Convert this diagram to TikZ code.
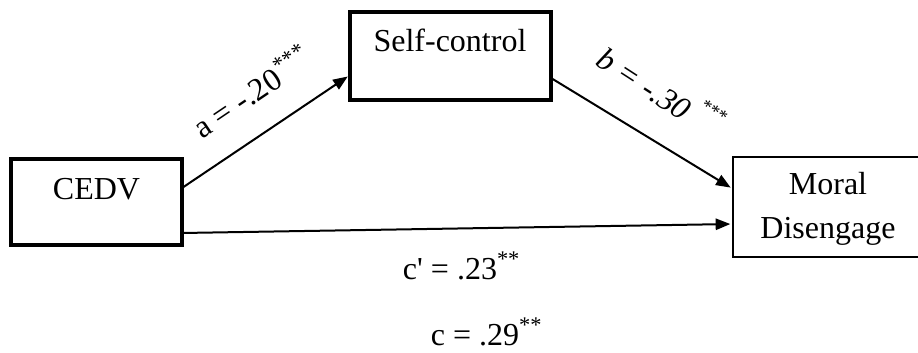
\documentclass[tikz,border=0pt]{standalone}
\usepackage{fontspec}
\setmainfont{Liberation Serif}
\usetikzlibrary{arrows.meta,calc}
\tikzset{
  thickbox/.style={draw, line width=3.2pt, minimum width=#1, inner sep=0pt, outer sep=0pt},
  openbox/.style={draw=none, inner sep=0pt, outer sep=0pt},
  openline/.style={line width=1.9pt, line cap=rect},
  lbl/.style={font=\fontsize{24}{28}\selectfont, inner sep=0pt},
  arr/.style={line width=1.5pt, -{Triangle[length=11pt,width=8.5pt]}, shorten >=2pt},
}
\begin{document}
\begin{tikzpicture}[x=0.75pt,y=-0.75pt]
\clip (0,0) rectangle (918,353);
\useasboundingbox (0,0) rectangle (918,353);
% boxes
\node[thickbox=128.25pt, minimum height=64.5pt] (cedv) at (96.5,202) {};
\node[thickbox=150.75pt, minimum height=66pt] (sc) at (450.5,56) {};
\node[openbox, minimum width=147.75pt, minimum height=75pt] (md) at (831.5,207) {};
\draw[openline] (md.north east) -- (md.north west) -- (md.south west) -- (md.south east);
% box texts
\node[lbl, anchor=base] (tcedv) at (96.5,199) {CEDV};
\node[lbl, anchor=base] (tsc) at (450,52) {Self-control};
\node[lbl, anchor=base] (tmd1) at (828,195) {Moral};
\node[lbl, anchor=base] (tmd2) at (828,238) {Disengage};
% connectors
\draw[arr] ($(cedv.east)+(0,-14)$) -- ($(sc.west)+(0,19)$);
\draw[arr] ($(sc.east)+(0,22)$) -- ($(md.west)+(0,-18)$);
\draw[arr] ($(cedv.east)+(0,31)$) -- ($(md.west)+(0,17)$);
% labels
\node[lbl, rotate=34] (la) at (236,101) {a = -.20\rlap{\kern1pt\textsuperscript{***}}};
\node[lbl, rotate=-33] (lb) at (647,80) {\itshape b = -.30\rlap{\kern5pt\raisebox{0.62em}{\fontsize{14}{14}\selectfont ***}}};
\node[lbl, anchor=base] (lcp) at (450,279) {c\textquotesingle{} = .23\rlap{\textsuperscript{**}}};
\node[lbl, anchor=base] (lc) at (475,345) {c = .29\rlap{\textsuperscript{**}}};
\end{tikzpicture}
\end{document}
